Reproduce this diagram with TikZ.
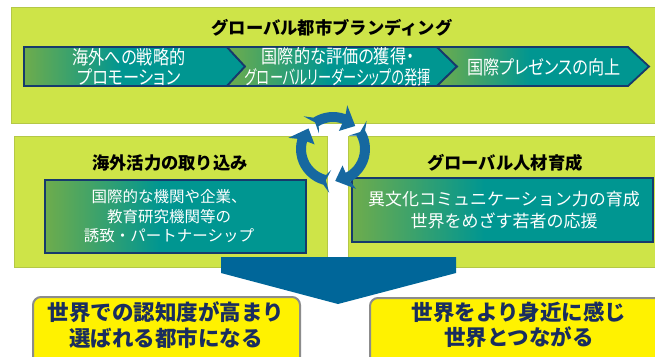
\documentclass[tikz,border=0pt]{standalone}
\usepackage{fontspec}
\newfontfamily\jp[RawFeature=+palt, FakeStretch=0.85]{Noto Sans CJK JP}
\newfontfamily\jpc{Noto Sans CJK JP}
\definecolor{lime}{RGB}{206,228,72}
\definecolor{limeedge}{RGB}{180,200,70}
\definecolor{gr}{RGB}{110,172,76}
\definecolor{tl}{RGB}{0,150,145}
\definecolor{navy}{RGB}{22,58,108}
\definecolor{arrowblue}{RGB}{0,102,153}
\definecolor{ringblue}{RGB}{22,104,160}
\definecolor{ytext}{RGB}{25,45,95}
\definecolor{ygray}{RGB}{140,140,140}
\pgfdeclarehorizontalshading{gtshade}{100bp}{color(0bp)=(gr); color(25bp)=(gr); color(47bp)=(tl); color(100bp)=(tl)}
\pgfmathsetmacro\ringR{32}
\pgfmathsetmacro\ringO{37}
\pgfmathsetmacro\ringI{27}
\newcommand{\circarr}[2]{%
  \fill[ringblue] ({#1}:{\ringO+7}) -- ({#1-10}:{\ringO})
    arc[start angle={#1-10}, end angle={#2+24}, radius=\ringO]
    -- ({#2+26}:{\ringO+9}) -- ({#2}:{\ringR}) -- ({#2+26}:{\ringI-8}) -- ({#2+24}:{\ringI})
    arc[start angle={#2+24}, end angle={#1-10}, radius=\ringI]
    -- ({#1}:{\ringI-6}) -- ({#1-8}:{\ringR}) -- cycle;}
\begin{document}
\begin{tikzpicture}[x=1pt,y=-1pt,
  panel/.style={fill=lime, draw=limeedge, line width=0.6pt},
  gbox/.style={shade, shading=gtshade, draw=navy, line width=1.8pt, line join=miter},
  ttl/.style={font=\jpc\bfseries\fontsize{17.3}{19}\selectfont, text=black, inner sep=0},
  chev/.style={font=\jp\fontsize{19}{20.5}\selectfont, text=white, align=center, inner sep=0},
  btxt/.style={font=\jpc\fontsize{15.5}{19.5}\selectfont, text=white, align=center, inner sep=0},
  ybox/.style={fill=yellow, draw=ygray, line width=2pt, rounded corners=8pt},
  ytxt/.style={font=\jpc\bfseries\fontsize{21.5}{25.5}\selectfont, text=ytext, align=center, inner sep=0}]
\path[use as bounding box] (0,0) rectangle (655,356);
\clip (0,0) rectangle (655,356);
\fill[white] (0,0) rectangle (655,356);
% panels
\path[panel] (11,7) rectangle (660,123);
\path[panel] (14,136) rectangle (327,267);
\path[panel] (348,136) rectangle (660,267);
% chevrons
\path[gbox] (24,47) -- (227,47) -- (245,66.5) -- (227,86) -- (24,86) -- cycle;
\path[gbox] (227,47) -- (437,47) -- (457,66.5) -- (437,86) -- (227,86) -- (245,66.5) -- cycle;
\path[gbox] (437,47) -- (628,47) -- (649,66.5) -- (628,86) -- (437,86) -- (457,66.5) -- cycle;
\node[ttl] (t0) at (332,28) {グローバル都市ブランディング};
\node[chev] (c1) at (129,67) {海外への戦略的\\プロモーション};
\node[chev] (c2) at (338,67) {国際的な評価の獲得・\\\scalebox{0.82}[1]{グローバルリーダーシップの発揮}};
\node[chev] (c3) at (544,67) {国際プレゼンスの向上};
% middle boxes
\path[gbox] (45,180) rectangle (306,253);
\path[gbox] (352,178) rectangle (653,242);
\node[ttl] (t1) at (170,163) {海外活力の取り込み};
\node[ttl] (t2) at (505,163) {グローバル人材育成};
\node[btxt] (b1) at (169,216.5) {国際的な機関や企業、\\教育研究機関等の\\誘致・パートナーシップ};
\node[btxt, font=\jpc\fontsize{17}{22}\selectfont] (b2) at (504,210) {異文化コミュニケーション力の育成\\世界をめざす若者の応援};
% circular arrows
\begin{scope}[shift={(333,149)}, yscale=-1]
  \circarr{132}{46}
  \circarr{40}{-86}
  \circarr{265}{140}
\end{scope}
% big arrow
\fill[arrowblue] (221,257) -- (456,257) -- (456,273) -- (338,304) -- (221,273) -- cycle;
% yellow boxes
\path[ybox] (33,297) rectangle (300,372);
\path[ybox] (370,298) rectangle (672,372);
\node[ytxt] (y1) at (166,325) {世界での認知度が高まり\\選ばれる都市になる};
\node[ytxt] (y2) at (519,325) {世界をより身近に感じ\\世界とつながる};
\end{tikzpicture}
\end{document}
